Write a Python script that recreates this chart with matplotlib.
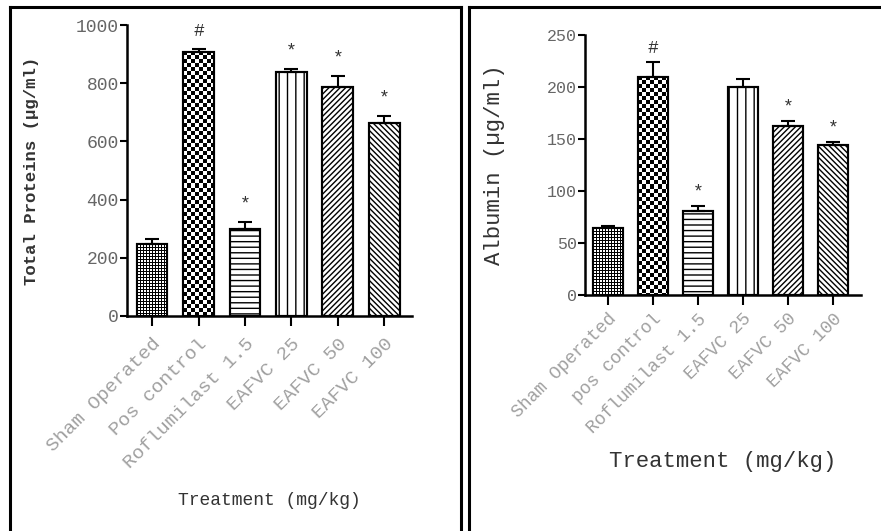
import numpy as np
import matplotlib
matplotlib.use("Agg")
import matplotlib.pyplot as plt
from matplotlib.lines import Line2D

plt.rcParams["font.family"] = ["Liberation Mono", "DejaVu Sans Mono"]
plt.rcParams["hatch.linewidth"] = 1.0

groups_left = ["Sham Operated", "Pos control", "Roflumilast 1.5",
               "EAFVC 25", "EAFVC 50", "EAFVC 100"]
groups_right = ["Sham Operated", "pos control", "Roflumilast 1.5",
                "EAFVC 25", "EAFVC 50", "EAFVC 100"]

# total proteins (ug/ml), mean and SEM
protein_mean = [247, 908, 298, 837, 786, 664]
protein_sem = [18, 8, 24, 12, 39, 23]
protein_marks = ["", "#", "*", "*", "*", "*"]

# albumin (ug/ml), mean and SEM
albumin_mean = [64, 210, 81, 200, 163, 144]
albumin_sem = [2, 14, 5, 8, 4, 3]
albumin_marks = ["", "#", "*", "", "*", "*"]

hatches = [None, None, "---", "||", "//////", "\\\\\\\\\\\\"]
patterns = ["grid", "checker", None, None, None, None]


def pattern_image(kind, w, h):
    yy, xx = np.mgrid[0:h, 0:w]
    if kind == "checker":
        img = ((xx // 4 + yy // 4) % 2 == 0).astype(float)
    else:
        img = ((xx % 3 == 0) | (yy % 3 == 0)).astype(float)
    return 1.0 - img


def fill_pattern(ax, bar, kind):
    x0, y0 = bar.get_x(), bar.get_y()
    x1, y1 = x0 + bar.get_width(), y0 + bar.get_height()
    p0 = ax.transData.transform((x0, y0))
    p1 = ax.transData.transform((x1, y1))
    w = max(int(round(abs(p1[0] - p0[0]))), 1)
    h = max(int(round(abs(p1[1] - p0[1]))), 1)
    img = pattern_image(kind, w, h)
    im = ax.imshow(img, cmap="gray", vmin=0, vmax=1, extent=(x0, x1, y0, y1),
                   aspect="auto", interpolation="nearest", zorder=1.5)
    im.set_clip_path(bar)


def draw_panel(ax, labels, means, sems, marks, ymax, ystep, ylabel,
               ylab_size, xlab_size, ytick_size, xtick_size, xlabel_y, xlim,
               mark_pad, xtick_pad):
    x = np.arange(len(means))
    ax.set_xlim(*xlim)
    ax.set_ylim(0, ymax)
    bars = ax.bar(x, means, width=0.66, color="white", edgecolor="black",
                  linewidth=1.5, zorder=1)
    for bar, h, kind in zip(bars, hatches, patterns):
        if h:
            bar.set_hatch(h)
        if kind:
            fill_pattern(ax, bar, kind)
    # outline on top of the pattern fills
    ax.bar(x, means, width=0.66, color="none", edgecolor="black",
           linewidth=1.5, zorder=2)
    ax.errorbar(x, means, yerr=[np.zeros(len(sems)), sems], fmt="none",
                ecolor="black", elinewidth=1.5, capsize=5, capthick=1.5,
                zorder=3)
    for xi, m, s, t in zip(x, means, sems, marks):
        if t:
            ax.annotate(t, (xi, m + s), xytext=(0, mark_pad),
                        textcoords="offset points", ha="center",
                        va="bottom", fontsize=13, color="#333333")

    for side in ["top", "right"]:
        ax.spines[side].set_visible(False)
    for side in ["left", "bottom"]:
        ax.spines[side].set_linewidth(1.8)
    ax.set_yticks(np.arange(0, ymax + 1, ystep))
    ax.tick_params(axis="y", length=5, width=1.5, labelsize=ytick_size,
                   labelcolor="#666666", pad=1)
    ax.set_xticks(x)
    ax.set_xticklabels(labels, rotation=45, ha="right", va="top",
                       rotation_mode="anchor", color="#a0a0a0",
                       fontsize=xtick_size)
    ax.tick_params(axis="x", length=7, width=1.5, pad=xtick_pad)
    ax.set_ylabel(ylabel, fontsize=ylab_size, color="#333333",
                  fontweight="bold" if ylab_size < 14 else "normal")
    ax.text(0.5, xlabel_y, "Treatment (mg/kg)", transform=ax.transAxes,
            ha="center", va="center", fontsize=xlab_size, color="#333333")


fig = plt.figure(figsize=(8.81, 5.31), dpi=100)

ax1 = fig.add_axes([0.1442, 0.4049, 0.3235, 0.548])
draw_panel(ax1, groups_left, protein_mean, protein_sem, protein_marks,
           1000, 200, "Total Proteins (\u00b5g/ml)", 12.5, 13, 13, 14,
           -0.635, (-0.54, 5.6), 7, 7)
ax1.yaxis.set_label_coords(-0.31, 0.5)

ax2 = fig.add_axes([0.664, 0.4444, 0.3133, 0.4896])
draw_panel(ax2, groups_right, albumin_mean, albumin_sem, albumin_marks,
           250, 50, "Albumin (\u00b5g/ml)", 16, 16, 12, 13,
           -0.64, (-0.51, 5.62), 4, 4)
ax2.yaxis.set_label_coords(-0.29, 0.5)

# panel frames
W, H = 881, 531
frame = dict(color="black", linewidth=2.2, transform=fig.transFigure,
             solid_capstyle="projecting")
for xs, ys in [([10, 10], [7, 535]), ([10, 461], [7, 7]), ([461, 461], [7, 535]),
               ([469, 469], [7, 535]), ([469, 890], [7, 7])]:
    fig.add_artist(Line2D([v / W for v in xs], [1 - v / H for v in ys], **frame))

fig.savefig("out.png", dpi=100)
